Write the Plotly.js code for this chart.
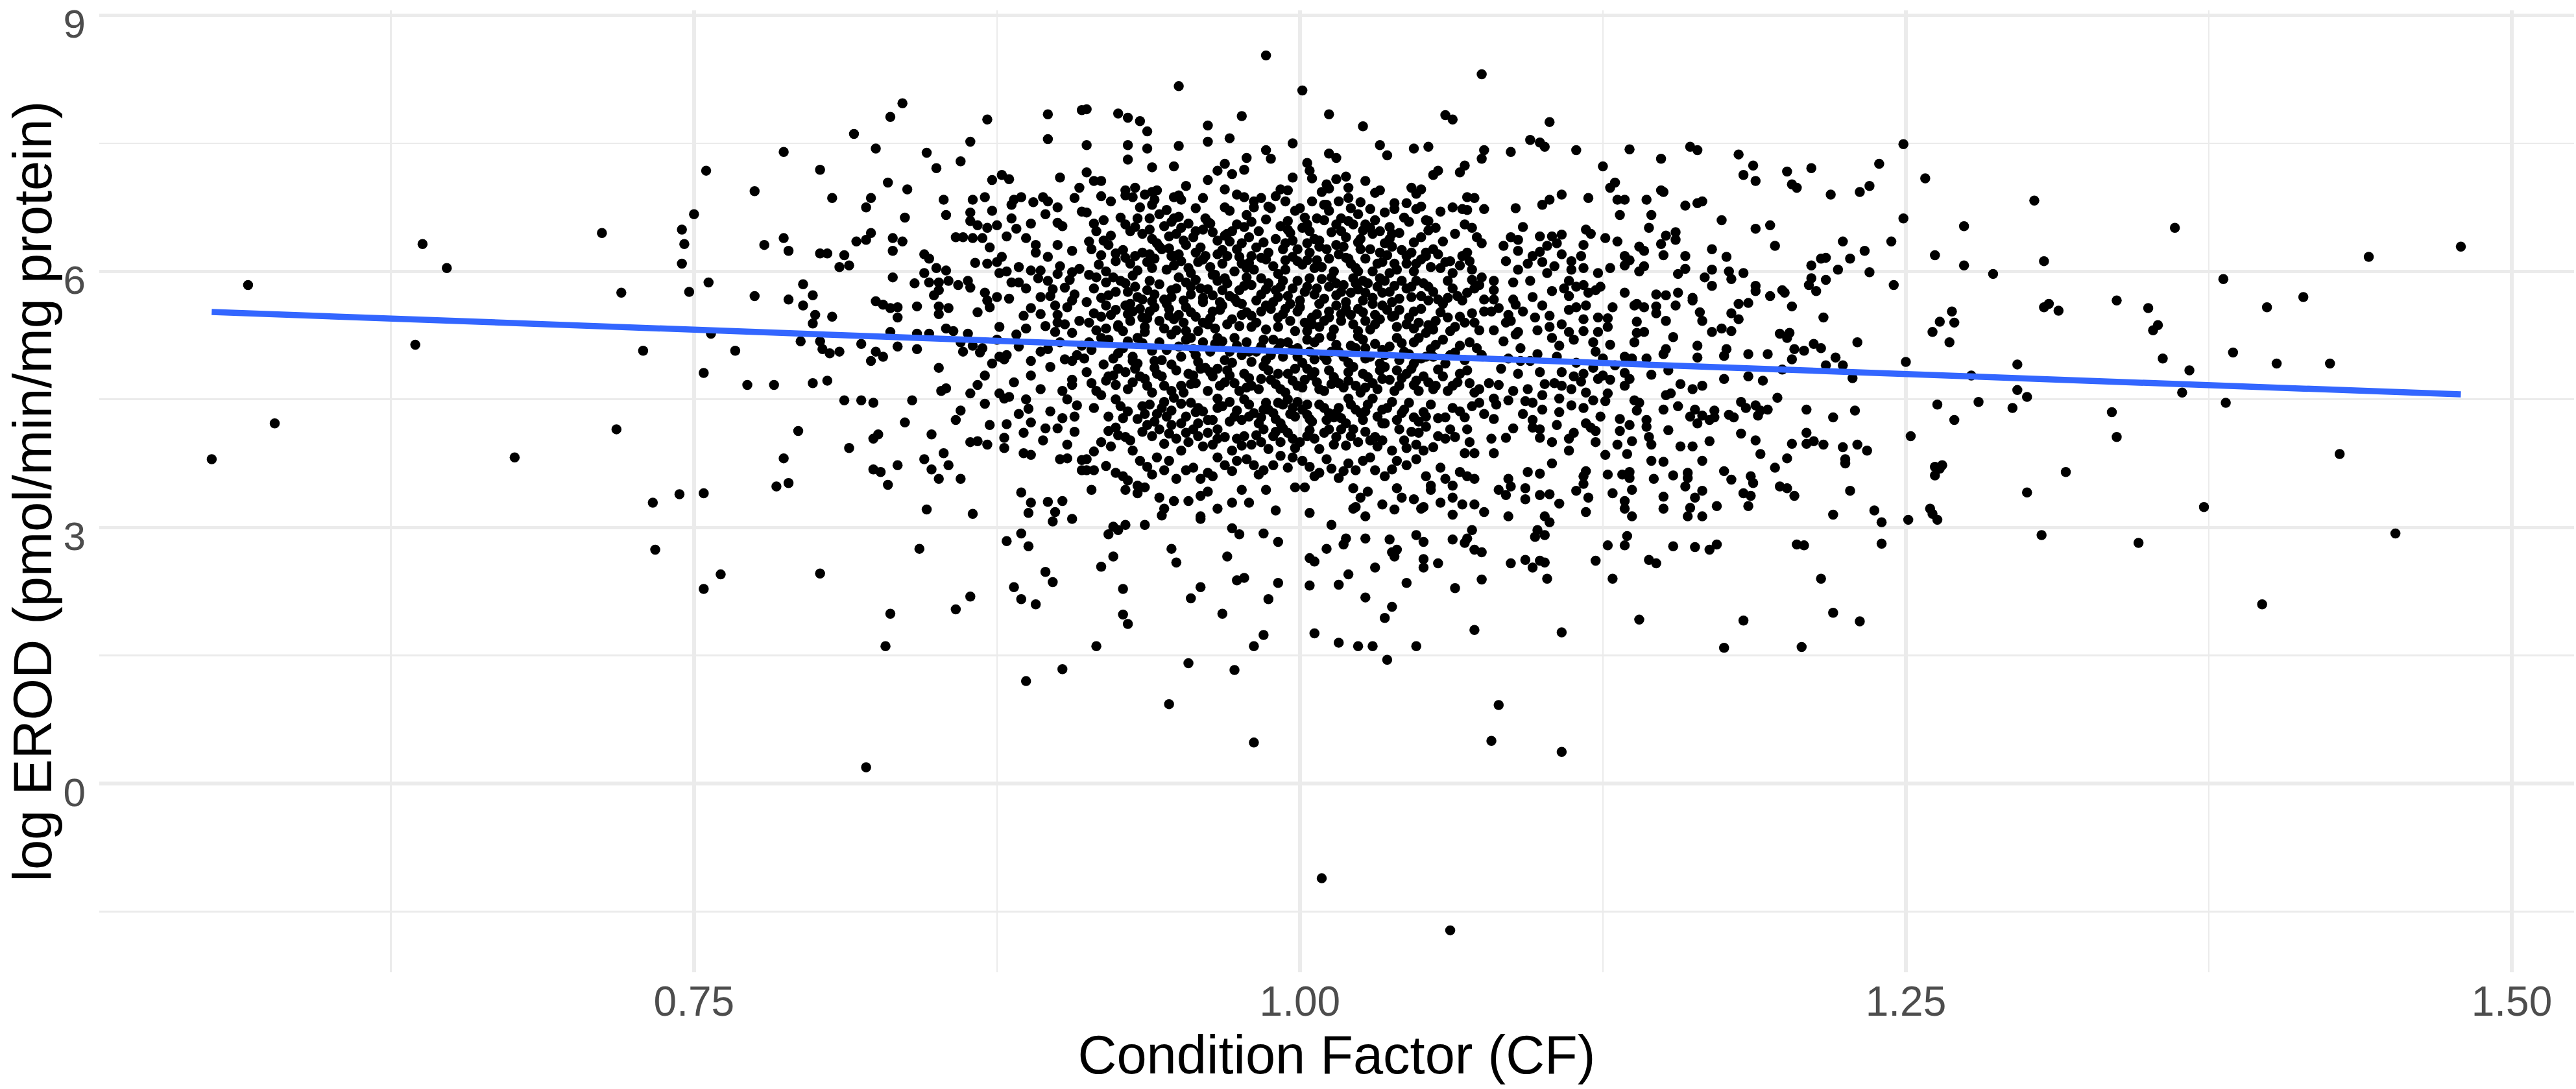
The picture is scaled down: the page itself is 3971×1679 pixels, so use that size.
<!DOCTYPE html>
<html>
<head>
<meta charset="utf-8">
<script src="https://cdn.plot.ly/plotly-3.0.1.min.js"></script>
<style>
html,body{margin:0;padding:0;background:#fff;}
#chart{width:3971px;height:1679px;}
</style>
</head>
<body>
<div id="chart"></div>
<script>
const leftTail = [
[0.551,3.80],[0.566,5.84],[0.577,4.22],[0.638,6.32],[0.635,5.14],[0.648,6.04],[0.676,3.82],[0.712,6.45],[0.720,5.75],[0.718,4.15],[0.729,5.07],[0.733,3.29],[0.734,2.74],[0.744,3.39],
[0.836,7.97],[0.831,7.81],[0.816,7.61],[0.825,7.44],[0.787,7.40],[0.871,7.78],[0.864,7.52],[0.896,7.84],[0.896,7.55],[0.910,7.89],
[0.846,7.39],[0.860,7.29],[0.850,7.21],[0.755,7.18],[0.802,7.19],[0.775,6.94],[0.807,6.86],[0.830,7.04],[0.838,6.96],[0.823,6.86],
[0.821,6.75],[0.750,6.67],[0.837,6.63],[0.853,6.84],[0.854,6.66],[0.865,6.84],[0.870,6.87],[0.864,6.69],[0.864,6.59],[0.867,6.54],
[0.871,6.51],[0.875,6.54],[0.873,6.71],[0.873,7.07],[0.877,7.13],[0.880,7.08],[0.882,6.84],[0.885,6.87],[0.881,6.78],[0.881,6.62],
[0.883,6.50],[0.889,6.56],[0.890,6.81],[0.894,6.87],[0.896,6.82],[0.895,6.67],[0.900,6.75],[0.901,7.10],[0.909,6.98],[0.907,6.86],
[0.910,6.70],[0.900,6.57],[0.902,6.53],[0.900,6.31],[0.906,6.24],[0.896,6.17],[0.891,6.22],[0.891,6.31],[0.887,6.39],[0.879,6.41],
[0.858,6.40],[0.861,6.40],[0.865,6.39],[0.869,6.39],[0.787,6.39],[0.779,6.31],[0.789,6.24],[0.745,6.49],[0.746,6.32],[0.745,6.09],
[0.817,6.35],[0.821,6.37],[0.823,6.45],[0.832,6.39],[0.836,6.35],[0.832,6.24],[0.802,6.21],[0.805,6.21],[0.812,6.19],[0.814,6.07],
[0.810,6.05],[0.845,6.20],[0.847,6.15],[0.850,6.04],[0.854,6.01],[0.845,5.98],[0.847,5.87],[0.841,5.86],[0.851,5.87],[0.855,5.89],
[0.851,5.78],[0.849,5.72],[0.859,5.84],[0.863,5.89],[0.864,5.81],[0.871,6.09],[0.875,6.11],[0.877,6.17],[0.876,5.98],[0.879,6.00],
[0.881,5.87],[0.884,5.87],[0.887,5.80],[0.889,6.01],[0.893,6.01],[0.901,6.06],[0.900,5.97],[0.906,5.99],[0.909,6.03],[0.896,5.89],
[0.898,5.79],[0.903,5.81],[0.870,5.75],[0.875,5.70],[0.871,5.66],[0.872,5.58],[0.867,5.52],[0.893,5.70],[0.897,5.71],[0.907,5.73],
[0.906,5.66],[0.899,5.60],[0.889,5.57],[0.893,5.50],[0.900,5.49],[0.909,5.42],[0.900,5.40],[0.903,5.38],[0.899,5.29],[0.906,5.28],
[0.887,5.33],[0.883,5.26],[0.756,5.87],[0.748,5.76],[0.775,5.71],[0.789,5.67],[0.795,5.85],[0.799,5.72],[0.795,5.60],[0.800,5.49],
[0.799,5.39],[0.807,5.47],[0.825,5.65],[0.828,5.61],[0.831,5.57],[0.834,5.58],[0.834,5.46],[0.832,5.93],[0.842,5.59],[0.851,5.59],
[0.851,5.50],[0.855,5.57],[0.854,5.33],[0.857,5.30],[0.863,5.27],[0.757,5.27],[0.831,5.29],[0.842,5.27],[0.847,5.27],
[0.794,5.18],[0.802,5.18],[0.803,5.09],[0.806,5.04],[0.810,5.06],[0.819,5.15],[0.825,5.06],[0.828,5.00],[0.823,4.95],[0.834,5.12],
[0.842,5.09],[0.767,5.07],[0.860,5.17],[0.861,5.06],[0.865,5.13],[0.869,5.10],[0.875,5.20],[0.876,5.00],[0.879,5.02],[0.878,4.97],
[0.873,4.92],[0.851,4.87],[0.893,5.06],[0.896,5.09],[0.901,5.17],[0.903,4.97],[0.908,5.02],[0.910,5.13],[0.754,4.81],[0.772,4.67],
[0.783,4.67],[0.799,4.69],[0.805,4.72],[0.889,4.78],[0.906,4.73],[0.906,4.67],[0.854,4.63],[0.852,4.60],[0.867,4.67],[0.864,4.57],
[0.812,4.49],[0.819,4.49],[0.824,4.46],[0.840,4.49],[0.876,4.57],[0.878,4.51],[0.880,4.53],[0.870,4.45],[0.887,4.50],[0.888,4.39],
[0.904,4.50],[0.908,4.43],[0.860,4.37],[0.858,4.26],[0.837,4.23],[0.793,4.13],[0.872,4.20],[0.879,4.21],[0.889,4.23],[0.886,4.11],
[0.902,4.28],[0.895,4.16],[0.900,4.16],[0.826,4.09],[0.824,4.04],[0.848,4.09],[0.814,3.93],[0.864,4.00],[0.867,4.01],[0.871,3.97],
[0.878,3.93],[0.886,3.87],[0.889,3.85],[0.904,3.97],[0.901,3.80],[0.904,3.81],[0.787,3.81],[0.853,3.87],[0.845,3.80],[0.855,3.73],
[0.834,3.73],[0.824,3.68],[0.827,3.65],[0.848,3.68],[0.851,3.57],[0.860,3.57],[0.830,3.50],[0.789,3.52],[0.784,3.48],[0.754,3.40],
[0.885,3.41],[0.889,3.29],[0.896,3.30],[0.902,3.31],[0.899,3.18],[0.888,3.17],[0.846,3.21],[0.865,3.16],[0.910,3.79],[0.910,3.67],
[0.898,3.07],[0.906,3.10],[0.885,2.93],[0.879,2.84],[0.888,2.78],[0.843,2.75],[0.761,2.45],[0.754,2.28],[0.802,2.46],[0.895,2.48],
[0.898,2.36],[0.882,2.30],[0.885,2.16],[0.891,2.10],[0.864,2.19],[0.858,2.04],[0.831,1.99],[0.829,1.61],[0.902,1.34],[0.887,1.20],[0.821,0.19]
];

const core = [
[0.986,8.53],[0.950,8.17],[1.001,8.12],[1.075,8.31],[0.912,7.90],[0.925,7.85],[0.929,7.80],[0.934,7.76],[0.937,7.64],[0.976,7.82],
[0.962,7.71],[0.962,7.52],[0.971,7.56],[1.012,7.84],[1.026,7.70],[1.060,7.83],[1.063,7.78],[0.912,7.48],[0.929,7.48],[0.937,7.44],
[0.950,7.47],[0.929,7.31],[0.939,7.22],[0.948,7.23],[0.997,7.50],[0.986,7.42],[0.988,7.32],[0.978,7.33],[0.977,7.19],[0.969,7.26],
[0.966,7.18],[0.972,7.14],[0.962,7.07],[0.912,7.16],[0.915,7.06],[0.918,7.06],[0.918,6.88],[1.033,7.48],[1.036,7.36],[1.012,7.38],
[1.015,7.33],[1.003,7.27],[1.004,7.18],[1.005,7.09],[0.997,7.10],[1.047,7.44],[1.053,7.46],[1.057,7.18],[1.055,7.13],[1.068,7.24],
[1.066,7.16],[1.075,7.32],[1.076,7.42],[1.015,7.08],[1.019,7.11],[1.020,6.98],[1.011,7.02],[1.012,6.97],[1.027,7.06],[1.033,6.95],
[1.046,6.98],[1.048,6.91],[1.050,6.96],[1.069,6.87],[1.067,6.73],[1.069,6.72],[1.076,6.73],[1.068,6.55],[1.071,6.51],[1.075,6.33],
[1.069,6.22],[1.067,6.18],[1.066,6.07],[1.071,6.02],[1.075,5.93],[1.072,5.80],
[0.928,6.95],[0.932,6.98],[0.931,6.87],[0.928,6.89],[0.939,6.93],[0.941,6.95],[0.940,6.84],[0.939,6.78],[0.948,6.87],[0.951,6.84],
[0.953,7.00],[0.950,6.89],[0.969,6.96],[0.977,6.87],[0.981,6.82],[0.984,6.86],[0.987,6.76],[0.992,6.96],[0.995,6.95],[0.994,6.82],
[1.009,6.93],[1.005,6.82],[1.011,6.78],[1.016,6.82],[1.025,6.81],[1.029,6.73],[1.035,6.69],[1.039,6.80],[1.039,6.73],[1.048,6.73],
[1.050,6.76],[1.043,6.63],[1.052,6.60],[1.063,6.75],
[0.912,6.69],[0.915,6.56],[0.919,6.60],[0.928,6.55],[0.934,6.75],[0.933,6.62],[0.938,6.62],[0.942,6.67],[0.932,6.52],[0.935,6.44],
[0.938,6.49],[0.939,6.38],[0.947,6.58],[0.950,6.64],[0.951,6.51],[0.949,6.44],[0.954,6.56],[0.957,6.74],[0.957,6.47],[0.960,6.49],
[0.962,6.58],[0.964,6.46],[0.969,6.75],[0.971,6.71],[0.969,6.42],[0.972,6.47],[0.977,6.52],[0.978,6.66],[0.979,6.40],[0.976,6.33],
[0.981,6.75],[0.988,6.74],[0.995,6.59],[0.995,6.49],[0.998,6.71],[1.001,6.51],[1.004,6.47],[1.007,6.62],[1.010,6.60],[1.010,6.78],
[1.012,6.71],[1.020,6.59],[1.022,6.55],[1.017,6.47],[1.024,6.67],[1.027,6.55],[1.030,6.44],[1.033,6.47],[1.037,6.52],[1.037,6.38],
[1.021,6.74],[1.053,6.59],
[0.913,6.35],[0.914,6.26],[0.918,6.19],[0.921,6.31],[0.924,6.21],[0.928,6.16],[0.930,6.09],[0.932,6.18],[0.935,6.22],[0.937,6.11],
[0.939,6.04],[0.942,6.29],[0.943,6.26],[0.946,6.27],[0.947,6.18],[0.950,6.20],[0.952,6.36],[0.948,6.07],[0.957,6.22],[0.958,6.11],
[0.961,6.18],[0.966,6.20],[0.968,6.09],[0.970,6.18],[0.971,6.35],[0.974,6.26],[0.976,6.09],[0.978,6.04],[0.980,6.18],[0.984,6.16],
[0.987,6.22],[0.993,6.26],[0.994,6.13],[0.994,6.33],[0.999,6.26],[1.003,6.33],[1.006,6.38],[1.008,6.29],[1.003,6.13],[1.006,6.04],
[1.012,6.15],[1.015,6.31],[1.018,6.29],[1.020,6.15],[1.023,6.04],[1.025,6.26],[1.025,6.38],[1.029,6.26],[1.033,6.22],[1.034,6.11],
[1.038,6.29],[1.039,6.09],[1.044,6.18],[1.046,6.22],[1.048,6.09],[1.052,6.18],[1.055,6.26],[1.058,6.04],[1.060,6.11],[1.063,5.98],
[0.913,5.96],[0.916,5.93],[0.920,5.87],[0.923,5.93],[0.926,5.89],[0.929,5.76],[0.932,5.82],[0.935,5.67],[0.938,5.89],[0.940,5.73],
[0.944,5.67],[0.947,5.78],[0.950,5.93],[0.953,5.87],[0.955,5.73],[0.959,5.80],[0.960,5.69],[0.964,5.96],[0.966,5.89],[0.968,5.78],
[0.971,5.71],[0.975,5.78],[0.978,5.93],[0.980,5.84],[0.984,5.73],[0.987,5.86],[0.990,5.78],[0.993,5.89],[0.995,5.71],[0.999,5.89],
[1.003,5.82],[1.006,5.73],[1.009,5.91],[1.012,5.82],[1.015,5.86],[1.017,5.76],[1.021,5.75],[1.023,5.86],[1.026,5.89],[1.027,5.75],
[1.030,5.69],[1.032,5.82],[1.035,5.89],[1.037,5.76],[1.042,5.89],[1.046,5.82],[1.048,5.89],[1.050,5.71],[1.053,5.82],[1.057,5.67],
[1.061,5.69],[1.065,5.71],[1.069,5.75],[1.074,5.84],[1.076,5.67],[1.061,5.89],
[0.912,5.64],[0.915,5.51],[0.920,5.60],[0.922,5.49],[0.925,5.37],[0.928,5.60],[0.931,5.53],[0.934,5.56],[0.935,5.46],[0.938,5.53],
[0.942,5.42],[0.946,5.56],[0.948,5.44],[0.950,5.49],[0.953,5.58],[0.957,5.47],[0.960,5.64],[0.964,5.53],[0.962,5.38],[0.968,5.60],
[0.970,5.38],[0.974,5.64],[0.976,5.49],[0.980,5.35],[0.984,5.53],[0.986,5.60],[0.991,5.46],[0.994,5.56],[0.999,5.53],[1.002,5.40],
[1.005,5.46],[1.008,5.35],[1.012,5.53],[1.015,5.60],[1.017,5.42],[1.021,5.49],[1.024,5.56],[1.027,5.42],[1.031,5.49],[1.034,5.60],
[1.038,5.47],[1.041,5.55],[1.044,5.38],[1.047,5.53],[1.049,5.40],[1.053,5.37],[1.056,5.42],[1.061,5.46],[1.064,5.35],[1.068,5.40],
[1.071,5.51],[1.074,5.31],[1.076,5.53],
[0.916,5.31],[0.921,5.20],[0.925,5.35],[0.929,5.18],[0.933,5.22],[0.936,5.29],[0.939,5.07],[0.942,5.17],[0.947,5.26],[0.949,5.31],
[0.953,5.20],[0.956,5.09],[0.960,5.17],[0.966,5.22],[0.968,5.18],[0.971,5.06],[0.974,5.13],[0.978,5.17],[0.982,5.06],[0.985,5.20],
[0.988,5.02],[0.991,5.09],[0.995,5.17],[0.999,5.00],[1.003,5.20],[1.006,5.17],[1.010,5.00],[1.013,5.24],[1.016,5.06],[1.021,5.13],
[1.024,5.24],[1.027,4.98],[1.031,5.15],[1.035,5.02],[1.040,5.22],[1.043,5.06],[1.047,5.17],[1.050,4.98],[1.054,5.09],[1.059,5.20],
[1.062,5.02],[1.066,5.13],[1.070,5.17],[1.075,5.02],[0.911,4.98],[0.913,5.17],
[0.914,4.69],[0.919,4.91],[0.921,4.77],[0.924,4.67],[0.928,4.82],[0.931,4.95],[0.934,4.77],[0.937,4.66],[0.940,4.87],[0.943,4.77],
[0.947,4.91],[0.951,4.66],[0.954,4.80],[0.957,4.69],[0.961,4.87],[0.964,4.77],[0.967,4.66],[0.970,4.84],[0.973,4.69],[0.977,4.80],
[0.980,4.66],[0.985,4.89],[0.988,4.73],[0.992,4.62],[0.995,4.80],[0.998,4.86],[1.002,4.73],[1.005,4.78],[1.008,4.62],[1.012,4.84],
[1.016,4.69],[1.020,4.82],[1.023,4.66],[1.026,4.80],[1.030,4.69],[1.033,4.84],[1.037,4.73],[1.041,4.66],[1.044,4.80],[1.047,4.67],
[1.051,4.77],[1.055,4.62],[1.059,4.77],[1.063,4.66],[1.066,4.80],[1.070,4.69],[1.074,4.62],
[0.918,4.55],[0.926,4.42],[0.933,4.27],[0.938,4.44],[0.941,4.33],[0.944,4.47],[0.947,4.37],[0.951,4.22],[0.957,4.35],[0.958,4.22],
[0.962,4.26],[0.966,4.51],[0.971,4.47],[0.974,4.37],[0.976,4.26],[0.979,4.44],[0.984,4.29],[0.987,4.38],[0.990,4.27],[0.993,4.44],
[0.996,4.33],[0.999,4.47],[1.003,4.44],[1.004,4.27],[1.011,4.26],[1.014,4.29],[1.016,4.40],[1.020,4.51],[1.023,4.38],[1.026,4.26],
[1.030,4.51],[1.034,4.22],[1.038,4.47],[1.043,4.38],[1.047,4.29],[1.051,4.35],[1.060,4.29],[1.063,4.40],[1.068,4.29],[1.074,4.46],[1.076,4.33],
[0.921,4.13],[0.924,4.17],[0.928,4.06],[0.922,3.95],[0.937,4.20],[0.939,4.07],[0.942,4.15],[0.947,4.20],[0.949,4.04],[0.953,4.11],
[0.958,4.07],[0.962,4.11],[0.964,3.97],[0.966,4.15],[0.974,4.04],[0.977,4.07],[0.980,3.97],[0.985,4.15],[0.989,4.07],[0.992,4.00],
[0.995,4.11],[0.998,3.93],[1.003,4.07],[1.006,4.04],[1.010,4.11],[1.014,3.97],[1.017,4.15],[1.021,4.07],[1.024,4.00],[1.029,4.02],
[1.032,3.95],[1.035,4.22],[1.041,4.15],[1.044,3.93],[1.048,3.97],[1.049,4.11],[1.052,4.18],[1.057,4.07],[1.060,4.04],[1.064,4.06],
[1.069,4.15],[1.072,3.87],[1.068,3.87],
[0.912,3.80],[0.915,3.89],[0.915,3.67],[0.912,3.67],[0.924,3.64],[0.929,3.55],[0.933,3.49],[0.934,3.78],[0.937,3.71],[0.941,3.82],
[0.944,3.67],[0.949,3.57],[0.953,3.67],[0.959,3.57],[0.962,3.64],[0.966,3.82],[0.969,3.73],[0.974,3.78],[0.978,3.80],[0.981,3.73],
[0.985,3.67],[0.989,3.73],[0.992,3.84],[0.997,3.82],[1.001,3.78],[1.004,3.71],[1.008,3.64],[1.013,3.69],[1.016,3.58],[1.020,3.75],
[1.023,3.67],[1.026,3.78],[1.031,3.67],[1.035,3.60],[1.040,3.78],[1.044,3.73],[1.052,3.60],[1.054,3.49],[1.060,3.57],[1.063,3.49],
[1.069,3.60],[1.072,3.57],
[0.914,3.44],[0.928,3.44],[0.933,3.40],[0.936,3.47],[0.942,3.35],[0.944,3.22],[0.948,3.31],[0.954,3.31],[0.959,3.37],[0.962,3.42],
[0.966,3.22],[0.972,3.29],[0.976,3.44],[0.979,3.29],[0.986,3.44],[0.990,3.20],[0.998,3.47],[1.002,3.47],[1.004,3.17],[1.022,3.46],
[1.023,3.24],[1.025,3.35],[1.028,3.42],[1.034,3.27],[1.040,3.46],[1.042,3.35],[1.047,3.33],[1.051,3.24],[1.054,3.44],[1.058,3.29],
[1.063,3.35],[1.067,3.27],[1.072,3.27],[1.076,3.18],[1.027,3.13],[0.959,3.13],
[0.943,3.14],[0.959,3.10],[1.022,3.22],[1.039,3.21],[1.050,3.22],[1.063,3.15],[0.923,3.01],[0.928,3.03],[0.925,2.97],[0.921,2.92],
[0.936,3.03],[0.923,2.66],[0.918,2.54],[0.947,2.75],[0.949,2.59],[0.972,2.99],[0.975,2.92],[0.985,2.93],[0.991,2.83],[0.970,2.66],
[0.974,2.38],[0.977,2.41],[0.991,2.35],[0.927,2.28],[0.959,2.30],[0.955,2.17],[0.987,2.16],[0.968,1.99],[0.927,1.98],[0.929,1.87],
[0.916,1.61],[0.985,1.74],[0.981,1.61],[0.954,1.41],[0.973,1.33],[0.946,0.93],[0.981,0.48],[1.013,3.03],[1.011,2.75],[1.019,2.87],
[1.018,2.80],[1.027,2.87],[1.037,2.86],[1.048,2.91],[1.051,2.83],[1.063,2.86],[1.071,2.97],[1.069,2.87],[1.068,2.82],[1.072,2.74],
[1.075,2.71],[1.004,2.64],[1.006,2.60],[1.038,2.71],[1.040,2.74],[1.039,2.66],[1.051,2.63],[1.051,2.53],[1.057,2.58],[1.031,2.53],
[1.020,2.45],[1.004,2.32],[1.016,2.33],[1.044,2.35],[1.064,2.29],[1.075,2.39],[1.027,2.18],[1.038,2.07],[1.035,1.94],[1.072,1.80],
[1.006,1.76],[1.016,1.65],[1.024,1.61],[1.030,1.61],[1.048,1.61],[1.036,1.45],[1.009,-1.11],[1.062,-1.72]
];

// further points estimated inside the overlapping (almost solid) centre of the cloud
const coreDense = [
[0.922,6.82],[0.936,6.90],[0.945,6.72],[0.960,6.86],[0.974,6.90],[0.990,6.88],[1.000,6.74],[1.020,6.86],[1.031,6.92],[1.044,6.80],[1.058,6.70],[1.072,6.86],
[0.916,6.47],[0.922,6.42],[0.926,6.63],[0.944,6.53],[0.946,6.41],[0.953,6.31],[0.961,6.62],[0.966,6.36],[0.974,6.55],[0.983,6.47],
[0.986,6.61],[0.990,6.38],[0.992,6.53],[0.997,6.36],[1.002,6.63],[1.013,6.46],[1.015,6.55],[1.019,6.40],[1.026,6.48],[1.031,6.60],
[1.035,6.33],[1.041,6.45],[1.045,6.58],[1.050,6.40],[1.056,6.51],[1.059,6.35],[1.064,6.44],[1.073,6.40],
[0.917,6.08],[0.920,6.00],[0.927,6.25],[0.933,6.01],[0.940,6.15],[0.945,6.02],[0.951,6.12],[0.955,5.98],[0.959,6.28],[0.963,6.05],
[0.968,6.25],[0.973,6.00],[0.979,6.10],[0.982,6.28],[0.989,6.06],[0.991,5.97],[0.997,6.17],[1.001,6.08],[1.004,6.22],[1.009,6.05],
[1.014,6.00],[1.016,6.20],[1.021,6.09],[1.027,6.15],[1.030,6.00],[1.036,6.19],[1.040,6.02],[1.042,6.25],[1.047,6.00],[1.050,6.14],
[1.054,6.05],[1.057,6.20],[1.062,6.12],[1.070,6.12],
[0.915,5.80],[0.918,5.69],[0.924,5.76],[0.928,5.86],[0.933,5.70],[0.937,5.78],[0.942,5.85],[0.945,5.62],[0.949,5.80],[0.952,5.66],
[0.957,5.90],[0.962,5.79],[0.967,5.64],[0.970,5.86],[0.973,5.68],[0.977,5.83],[0.982,5.66],[0.986,5.79],[0.989,5.64],[0.992,5.82],
[0.997,5.80],[1.000,5.66],[1.004,5.92],[1.007,5.80],[1.010,5.68],[1.013,5.93],[1.018,5.84],[1.019,5.64],[1.024,5.79],[1.028,5.86],
[1.030,5.62],[1.034,5.75],[1.039,5.83],[1.041,5.68],[1.044,5.80],[1.051,5.86],[1.055,5.76],[1.059,5.62],[1.063,5.80],[1.067,5.66],[1.071,5.90],
[0.913,5.40],[0.918,5.47],[0.924,5.55],[0.927,5.30],[0.930,5.42],[0.936,5.35],[0.940,5.58],[0.944,5.33],[0.952,5.40],[0.955,5.52],
[0.958,5.30],[0.963,5.45],[0.967,5.55],[0.972,5.44],[0.978,5.52],[0.982,5.40],[0.988,5.56],[0.991,5.35],[0.996,5.42],[1.000,5.58],
[1.003,5.30],[1.007,5.50],[1.010,5.42],[1.014,5.32],[1.019,5.56],[1.022,5.38],[1.026,5.52],[1.029,5.32],[1.033,5.44],[1.036,5.55],
[1.040,5.35],[1.045,5.46],[1.050,5.56],[1.052,5.28],[1.058,5.52],[1.062,5.30],[1.066,5.47],[1.072,5.40],
[0.914,5.08],[0.918,5.22],[0.923,4.98],[0.927,5.10],[0.931,5.00],[0.935,5.16],[0.940,4.95],[0.945,5.08],[0.951,5.00],[0.955,5.22],
[0.958,4.94],[0.963,5.06],[0.969,4.96],[0.973,5.22],[0.976,5.02],[0.980,4.94],[0.984,5.12],[0.989,5.20],[0.993,5.00],[0.997,5.08],
[1.001,4.93],[1.004,5.06],[1.008,5.22],[1.011,4.96],[1.015,5.14],[1.018,5.00],[1.023,5.10],[1.026,5.20],[1.029,5.00],[1.033,4.92],
[1.037,5.12],[1.041,4.96],[1.045,5.03],[1.049,5.22],[1.052,5.00],[1.056,5.14],[1.060,4.92],[1.064,5.05],[1.068,4.96],[1.073,5.10],
[0.912,4.82],[0.916,4.60],[0.920,4.72],[0.925,4.86],[0.929,4.62],[0.932,4.86],[0.936,4.74],[0.939,4.58],[0.944,4.66],[0.949,4.84],
[0.952,4.58],[0.956,4.78],[0.959,4.86],[0.962,4.60],[0.966,4.86],[0.969,4.70],[0.975,4.60],[0.979,4.75],[0.983,4.62],[0.987,4.84],
[0.990,4.68],[0.994,4.58],[0.997,4.72],[1.001,4.64],[1.003,4.86],[1.007,4.70],[1.010,4.60],[1.014,4.76],[1.018,4.64],[1.022,4.88],
[1.025,4.58],[1.028,4.76],[1.032,4.62],[1.035,4.88],[1.039,4.60],[1.042,4.75],[1.046,4.86],[1.049,4.60],[1.053,4.70],[1.057,4.85],
[1.061,4.60],[1.065,4.70],[1.069,4.84],[1.072,4.58],
[0.915,4.40],[0.921,4.30],[0.924,4.50],[0.929,4.36],[0.935,4.42],[0.940,4.24],[0.943,4.40],[0.948,4.52],[0.953,4.30],[0.955,4.46],
[0.960,4.36],[0.964,4.26],[0.968,4.42],[0.973,4.30],[0.977,4.50],[0.981,4.34],[0.983,4.22],[0.986,4.46],[0.989,4.34],[0.992,4.22],
[0.995,4.50],[0.998,4.30],[1.001,4.38],[1.005,4.24],[1.008,4.44],[1.012,4.34],[1.017,4.28],[1.021,4.44],[1.025,4.34],[1.028,4.44],
[1.032,4.30],[1.036,4.40],[1.040,4.26],[1.045,4.46],[1.049,4.24],[1.054,4.44],[1.057,4.28],[1.066,4.36],[1.071,4.42],
[0.918,4.00],[0.925,4.08],[0.931,3.90],[0.935,4.12],[0.944,3.98],[0.951,3.90],[0.956,4.15],[0.960,3.95],[0.969,4.06],[0.972,3.90],
[0.982,4.08],[0.987,3.92],[0.993,4.16],[1.000,4.00],[1.008,3.92],[1.012,4.15],[1.019,3.96],[1.027,4.12],[1.034,4.02],[1.038,3.90],
[1.046,4.12],[1.055,3.94],[1.062,4.15],[1.070,4.00],
[0.920,3.72],[0.927,3.60],[0.939,3.62],[0.946,3.78],[0.956,3.70],[0.964,3.60],[0.972,3.66],[0.983,3.62],[0.995,3.70],[1.006,3.60],
[1.011,3.80],[1.018,3.66],[1.029,3.82],[1.038,3.68],[1.048,3.80],[1.058,3.70],[1.066,3.65]
];

const coreDense2 = [
[0.919,6.36],[0.930,6.47],[0.941,6.33],[0.948,6.62],[0.956,6.40],[0.963,6.56],[0.970,6.44],[0.980,6.58],[0.985,6.34],[0.996,6.45],
[1.003,6.55],[1.008,6.36],[1.017,6.62],[1.024,6.34],[1.029,6.51],[1.038,6.44],[1.047,6.34],[1.053,6.48],
[0.924,6.12],[0.931,5.95],[0.938,6.20],[0.948,6.18],[0.954,6.04],[0.960,6.14],[0.965,5.96],[0.975,6.17],[0.981,6.02],[0.986,6.14],
[0.994,6.02],[0.999,6.12],[1.007,6.13],[1.011,6.26],[1.019,6.16],[1.024,6.00],[1.032,6.09],[1.037,5.98],[1.044,6.09],[1.052,6.22],
[0.921,5.72],[0.930,5.62],[0.939,5.65],[0.947,5.70],[0.955,5.82],[0.964,5.72],[0.969,5.92],[0.976,5.62],[0.984,5.92],[0.991,5.70],
[0.996,5.62],[1.002,5.76],[1.008,5.62],[1.015,5.72],[1.022,5.92],[1.026,5.66],[1.033,5.92],[1.038,5.64],[1.046,5.70],[1.053,5.66],
[0.920,5.33],[0.929,5.50],[0.937,5.45],[0.946,5.48],[0.953,5.30],[0.960,5.40],[0.965,5.33],[0.975,5.36],[0.980,5.48],[0.986,5.32],
[0.993,5.50],[0.998,5.30],[1.005,5.38],[1.012,5.46],[1.017,5.50],[1.024,5.30],[1.031,5.38],[1.039,5.48],[1.047,5.33],[1.055,5.32],
[0.925,5.04],[0.933,4.92],[0.943,4.96],[0.950,5.12],[0.957,5.02],[0.965,5.15],[0.972,4.93],[0.979,5.06],[0.986,4.96],[0.992,5.16],
[0.999,5.10],[1.006,4.97],[1.013,5.06],[1.020,4.93],[1.027,5.10],[1.034,5.08],[1.042,5.16],[1.047,4.92],[1.055,5.00],
[0.923,4.78],[0.931,4.70],[0.941,4.80],[0.947,4.60],[0.955,4.68],[0.963,4.82],[0.971,4.78],[0.978,4.64],[0.984,4.74],[0.991,4.80],
[0.999,4.66],[1.006,4.82],[1.013,4.68],[1.020,4.72],[1.027,4.64],[1.034,4.74],[1.040,4.84],[1.048,4.72],[1.056,4.66],
[0.927,4.28],[0.936,4.33],[0.945,4.30],[0.951,4.45],[0.958,4.40],[0.966,4.40],[0.971,4.24],[0.979,4.30],[0.985,4.38],[0.991,4.46],
[0.997,4.40],[1.003,4.32],[1.010,4.40],[1.015,4.34],[1.019,4.22],[1.027,4.36],[1.034,4.38],[1.042,4.34],[1.052,4.30],
[0.930,4.02],[0.946,4.10],[0.954,4.00],[0.966,4.04],[0.976,3.96],[0.984,4.00],[0.990,4.12],[0.997,4.04],[1.004,4.14],[1.015,4.06],
[1.022,4.15],[1.031,4.06],[1.043,4.02],[1.051,3.90]
];

const flankDense = [
[0.866,6.10],[0.872,6.28],[0.884,6.05],[0.892,5.92],[0.905,5.90],[0.880,5.68],[0.886,5.48],[0.895,5.36],[0.904,5.58],[0.876,5.35],
[0.868,5.05],[0.884,5.12],[0.889,4.95],[0.897,4.88],[0.906,4.95],[0.882,4.70],[0.893,4.62],[0.902,4.60],[0.870,4.78],[0.884,4.33],
[0.897,4.36],[0.907,4.30],[0.894,4.02],[0.907,4.12],[0.878,4.05],
[1.084,6.30],[1.096,6.18],[1.106,6.33],[1.112,6.12],[1.096,5.70],[1.104,5.77],[1.092,5.53],[1.103,5.48],[1.118,5.60],[1.129,5.58],
[1.091,5.10],[1.098,5.03],[1.106,5.00],[1.114,4.93],[1.130,4.90],[1.088,4.60],[1.100,4.55],[1.117,4.40],[1.124,4.30],[1.106,4.20],
[1.092,4.33],[1.111,3.90],[1.126,3.85]
];

const rightSide = [
[1.103,7.75],[1.095,7.54],[1.099,7.51],[1.101,7.46],[1.087,7.40],[1.114,7.42],[1.125,7.23],[1.136,7.43],[1.149,7.32],[1.161,7.46],
[1.164,7.42],[1.181,7.37],[1.187,7.24],[1.183,7.13],[1.188,7.06],[1.201,7.17],[1.211,7.21],[1.203,7.02],[1.205,6.98],[1.239,7.26],
[1.235,7.00],[1.231,6.93],[1.219,6.90],[1.130,7.04],[1.128,6.98],[1.119,6.86],[1.108,6.90],[1.103,6.84],[1.100,6.78],[1.089,6.74],
[1.131,6.84],[1.134,6.84],[1.132,6.66],[1.143,6.84],[1.145,6.66],[1.144,6.51],[1.149,6.95],[1.150,6.93],[1.159,6.77],[1.164,6.80],
[1.166,6.82],[1.174,6.60],[1.188,6.50],[1.194,6.54],[1.196,6.30],[1.092,6.52],[1.087,6.40],[1.090,6.37],[1.090,6.24],[1.099,6.41],
[1.104,6.41],[1.108,6.43],[1.102,6.30],[1.099,6.23],[1.108,6.20],[1.118,6.49],[1.120,6.44],[1.117,6.31],[1.116,6.18],[1.126,6.39],
[1.131,6.35],[1.134,6.18],[1.136,6.13],[1.134,6.07],[1.140,6.29],[1.142,6.24],[1.142,6.06],[1.140,6.00],[1.149,6.32],[1.150,6.19],
[1.151,6.42],[1.155,6.46],[1.155,6.37],[1.159,6.18],[1.159,6.03],[1.156,5.97],[1.170,6.26],[1.176,6.17],[1.170,6.02],[1.167,5.93],
[1.170,5.83],[1.177,6.00],[1.178,5.91],[1.183,5.98],[1.188,5.83],[1.188,5.77],[1.194,5.71],[1.199,5.78],[1.200,5.75],[1.203,5.59],
[1.185,5.63],[1.181,5.62],[1.178,5.51],[1.181,5.44],[1.216,5.46],[1.211,6.07],[1.211,5.92],[1.210,5.84],[1.213,5.77],[1.217,5.90],
[1.215,6.15],[1.217,6.16],[1.222,6.02],[1.224,6.35],[1.227,6.15],[1.233,6.24],[1.235,5.99],
[1.085,6.12],[1.090,6.02],[1.094,6.09],[1.095,5.89],[1.088,5.87],[1.100,6.11],[1.102,5.98],[1.105,6.06],[1.112,6.02],[1.117,6.04],
[1.111,5.89],[1.109,5.80],[1.111,5.71],[1.114,5.82],[1.117,5.84],[1.119,5.75],[1.122,5.78],[1.124,5.82],[1.123,5.98],[1.128,6.04],
[1.134,5.75],[1.138,5.60],[1.142,5.58],[1.139,5.62],[1.147,5.73],[1.151,5.72],[1.147,5.59],[1.147,5.51],[1.156,5.75],[1.155,5.60],
[1.162,5.69],[1.162,5.66],[1.165,5.52],[1.166,5.42],[1.151,5.42],[1.139,5.41],[1.139,5.28],[1.142,5.29],[1.138,5.17],[1.154,5.23],
[1.170,5.29],[1.174,5.33],[1.178,5.30],[1.198,5.27],[1.202,5.28],[1.201,5.22],[1.230,5.17],[1.204,5.09],[1.208,5.07],[1.212,5.15],
[1.215,5.10],[1.203,4.97],[1.221,4.99],[1.217,4.90],[1.224,4.90],[1.193,5.03],[1.185,5.03],[1.176,5.09],[1.175,5.01],[1.164,5.13],
[1.164,4.99],[1.151,5.09],[1.150,5.03],[1.143,4.98],[1.137,4.98],[1.134,5.00],[1.145,4.79],[1.152,4.84],[1.134,4.81],[1.136,4.74],
[1.134,4.66],[1.199,4.85],[1.185,4.77],[1.191,4.72],[1.228,4.75],[1.175,4.74],[1.157,4.68],[1.162,4.62],[1.166,4.66],[1.151,4.55],
[1.153,4.57],[1.197,4.52],[1.138,4.49],[1.140,4.46],[1.139,4.37],[1.156,4.42],[1.150,4.38],[1.182,4.47],[1.184,4.40],[1.188,4.43],
[1.189,4.31],[1.193,4.38],[1.190,4.37],[1.163,4.38],[1.161,4.30],[1.166,4.31],[1.164,4.22],[1.169,4.26],[1.171,4.37],[1.171,4.29],
[1.177,4.32],[1.179,4.29],[1.209,4.38],[1.229,4.37],[1.220,4.29],[1.132,4.27],[1.132,4.13],[1.136,4.20],[1.143,4.26],[1.143,4.18],
[1.144,4.06],[1.152,4.14],[1.182,4.10],[1.209,4.11],[1.188,4.02],[1.169,4.01],[1.203,3.98],[1.209,3.98],[1.212,4.01],[1.216,3.97],
[1.224,3.94],[1.230,3.97],[1.234,3.90],[1.131,3.97],[1.137,4.01],[1.145,3.97],[1.157,3.95],[1.162,3.95],[1.190,3.86],[1.201,3.81],
[1.225,3.80],[1.225,3.75],[1.135,3.86],[1.145,3.78],[1.150,3.77],[1.166,3.78],[1.196,3.70],[1.175,3.66],[1.178,3.56],[1.186,3.60],
[1.187,3.52],[1.154,3.61],[1.160,3.64],[1.160,3.58],[1.146,3.57],[1.127,3.62],[1.133,3.62],[1.136,3.65],[1.136,3.58],[1.198,3.48],
[1.201,3.46],[1.204,3.37],[1.227,3.43],[1.237,3.20],[1.220,3.15],[1.137,3.44],[1.129,3.40],[1.134,3.31],[1.134,3.22],[1.150,3.36],
[1.150,3.22],[1.159,3.48],[1.163,3.35],[1.166,3.43],[1.161,3.23],[1.160,3.13],[1.166,3.13],[1.172,3.25],[1.183,3.40],[1.186,3.37],
[1.185,3.25],[1.137,3.13],
[1.080,5.89],[1.080,5.78],[1.080,5.67],[1.082,5.57],[1.079,5.53],[1.088,5.67],[1.089,5.61],[1.086,5.49],[1.085,5.40],[1.087,5.42],
[1.080,5.31],[1.084,5.18],[1.089,5.26],[1.090,5.29],[1.097,5.46],[1.098,5.31],[1.103,5.35],[1.100,5.60],[1.104,5.22],[1.107,5.13],
[1.108,5.38],[1.111,5.55],[1.114,5.58],[1.111,5.29],[1.113,5.20],[1.117,5.30],[1.117,5.44],[1.123,5.46],[1.127,5.45],[1.127,5.35],
[1.123,5.29],[1.121,5.17],[1.128,5.14],[1.122,5.06],[1.125,4.98],[1.121,4.87],[1.125,4.78],[1.123,4.74],[1.128,4.73],[1.127,4.57],
[1.126,4.48],[1.121,4.49],[1.118,4.58],[1.117,4.80],[1.116,4.71],[1.113,4.77],[1.112,4.62],[1.112,4.43],[1.108,4.82],[1.108,4.66],
[1.107,4.51],[1.105,4.69],[1.107,4.35],[1.101,4.68],[1.099,4.82],[1.095,4.95],[1.094,4.62],[1.093,4.48],[1.096,4.46],[1.100,4.38],
[1.090,4.80],[1.091,4.95],[1.083,4.86],[1.086,4.98],[1.082,4.67],[1.078,4.69],[1.080,4.51],[1.086,4.49],[1.081,4.44],[1.080,4.27],
[1.088,4.16],[1.096,4.26],[1.096,4.17],[1.099,4.15],[1.099,4.05],[1.104,4.00],[1.079,4.04],[1.085,4.05],[1.080,3.87],[1.118,4.22],
[1.120,4.17],[1.122,4.13],[1.122,4.00],[1.113,4.11],[1.111,4.04],[1.104,3.75],[1.094,3.65],[1.099,3.63],[1.086,3.57],[1.087,3.48],
[1.082,3.44],[1.085,3.38],[1.093,3.46],[1.093,3.33],[1.099,3.38],[1.103,3.39],[1.107,3.28],[1.114,3.43],[1.117,3.60],[1.118,3.66],
[1.117,3.51],[1.119,3.35],[1.118,3.18],[1.101,3.13],[1.086,3.13],
[1.103,3.06],[1.240,3.06],[1.098,2.97],[1.097,2.89],[1.101,2.91],[1.087,2.58],[1.093,2.62],[1.096,2.53],[1.099,2.61],[1.101,2.59],
[1.102,2.40],[1.122,2.61],[1.127,2.79],[1.134,2.79],[1.135,2.90],[1.129,2.40],[1.144,2.62],[1.147,2.58],[1.154,2.78],[1.163,2.77],
[1.169,2.74],[1.172,2.80],[1.205,2.80],[1.208,2.79],[1.240,2.81],[1.215,2.40],[1.108,1.77],[1.140,1.92],[1.183,1.91],[1.175,1.59],
[1.207,1.60],[1.220,2.00],[1.231,1.90],[1.082,0.92],[1.079,0.50],[1.108,0.37]
];

const rightTail = [
[1.249,7.49],[1.258,7.09],[1.249,6.62],[1.244,6.35],[1.245,5.84],[1.262,6.19],[1.274,6.53],[1.274,6.07],[1.286,5.97],[1.303,6.83],
[1.307,6.12],[1.307,5.58],[1.309,5.62],[1.313,5.54],[1.269,5.53],[1.270,5.40],[1.264,5.41],[1.261,5.29],[1.268,5.17],[1.250,4.94],
[1.277,4.78],[1.296,4.91],[1.296,4.61],[1.300,4.53],[1.294,4.40],[1.280,4.47],[1.263,4.44],[1.270,4.26],[1.252,4.07],[1.262,3.71],
[1.264,3.69],[1.265,3.73],[1.262,3.61],[1.316,3.65],[1.300,3.41],[1.260,3.22],[1.261,3.16],[1.263,3.09],[1.251,3.09],[1.306,2.91],
[1.337,5.66],[1.350,5.57],[1.352,5.31],[1.354,5.37],[1.356,4.98],[1.361,6.51],[1.335,4.35],[1.337,4.06],[1.367,4.84],[1.364,4.58],
[1.373,3.24],[1.346,2.82],[1.381,5.91],[1.385,5.05],[1.382,4.46],[1.399,5.58],[1.403,4.92],[1.414,5.70],[1.425,4.92],[1.429,3.86],
[1.397,2.10],[1.441,6.17],[1.452,2.93],[1.479,6.29]
];

// fitted linear trend (end points)
const fitCF   = [0.551, 1.479];
const fitErod = [5.524, 4.559];

// axes
const xTickVals  = [0.75, 1.00, 1.25, 1.50];
const xTickText  = ['0.75', '1.00', '1.25', '1.50'];
const xMinorVals = [0.625, 0.875, 1.125, 1.375];
const yTickVals  = [0, 3, 6, 9];
const yTickText  = ['0', '3', '6', '9'];
const yMinorVals = [-1.5, 1.5, 4.5, 7.5];
const xTitle = 'Condition Factor (CF)';
const yTitle = 'log EROD (pmol/min/mg protein)';

// ---- build traces ----
const allPoints = [].concat(leftTail, core, coreDense, coreDense2, flankDense, rightSide, rightTail);
const cf   = allPoints.map(p => p[0]);
const erod = allPoints.map(p => p[1]);

const FONT = 'Liberation Sans, Arial, Helvetica, sans-serif';
const GRID = '#EBEBEB';

const traces = [
  {
    type: 'scatter', mode: 'markers', x: cf, y: erod,
    marker: { color: '#000000', size: 15.5, line: { width: 0 } },
    hoverinfo: 'skip', showlegend: false
  },
  {
    type: 'scatter', mode: 'lines', x: fitCF, y: fitErod,
    line: { color: '#3366FF', width: 9.5 },
    hoverinfo: 'skip', showlegend: false
  }
];

const layout = {
  width: 3971, height: 1679,
  margin: { l: 153, r: 3, t: 16, b: 180, pad: 0 },
  paper_bgcolor: '#FFFFFF', plot_bgcolor: '#FFFFFF',
  showlegend: false,
  font: { family: FONT, color: '#000000' },
  xaxis: {
    range: [0.5046, 1.5257], autorange: false,
    tickmode: 'array', tickvals: xTickVals, ticktext: xTickText,
    ticks: '', showline: false, zeroline: false,
    showgrid: true, gridcolor: GRID, gridwidth: 5.3,
    minor: { tickmode: 'array', tickvals: xMinorVals, showgrid: true, gridcolor: GRID, gridwidth: 2.7, ticks: '' },
    tickfont: { family: FONT, size: 64, color: '#4D4D4D' },
    ticklabelstandoff: 2,
    ticklabeloverflow: 'allow',
    automargin: false,
    title: { text: xTitle, font: { family: FONT, size: 83, color: '#000000' }, standoff: 14 }
  },
  yaxis: {
    range: [-2.211, 9.058], autorange: false,
    tickmode: 'array', tickvals: yTickVals, ticktext: yTickText,
    ticks: '', showline: false, zeroline: false,
    showgrid: true, gridcolor: GRID, gridwidth: 5.3,
    minor: { tickmode: 'array', tickvals: yMinorVals, showgrid: true, gridcolor: GRID, gridwidth: 2.7, ticks: '' },
    tickfont: { family: FONT, size: 62, color: '#4D4D4D' },
    ticklabelstandoff: 20,
    ticklabelshift: 13,
    ticklabeloverflow: 'allow',
    automargin: false,
    title: { text: '' }
  },
  annotations: [{
    text: yTitle, xref: 'paper', yref: 'paper',
    x: (50 - 153) / 3815, y: 0.5, xanchor: 'center', yanchor: 'middle',
    textangle: -90, showarrow: false, borderpad: 0,
    font: { family: FONT, size: 83, color: '#000000' }
  }]
};

Plotly.newPlot('chart', traces, layout, { staticPlot: true, displayModeBar: false });
</script>
</body>
</html>
